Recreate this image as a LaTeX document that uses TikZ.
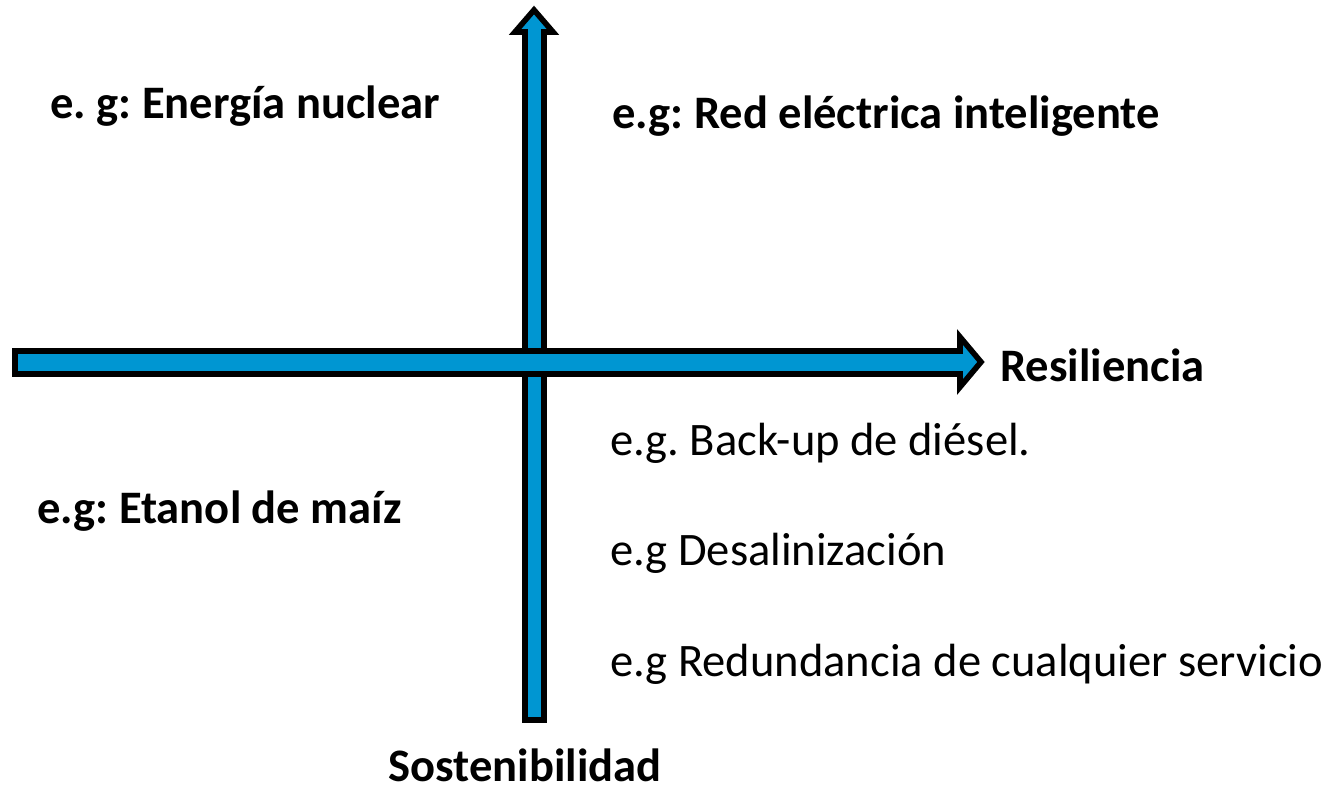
\documentclass[tikz,border=0pt]{standalone}
\usepackage{fontspec}
\setmainfont{Carlito}
\frenchspacing
\definecolor{axisblue}{RGB}{0,150,210}
\tikzset{
  blockarrow/.style={draw=black, fill=axisblue, line width=3.2pt, line join=miter},
  boldlbl/.style={anchor=west, inner sep=0pt, font=\fontsize{26.5}{30}\selectfont\bfseries},
  plainlbl/.style={anchor=west, inner sep=0pt, font=\fontsize{26.5}{30}\selectfont}
}
\begin{document}
\begin{tikzpicture}[x=0.02cm, y=-0.02cm]
		\useasboundingbox (0,0) rectangle (1334,793);
		% vertical axis
		\draw [blockarrow] (525,720) -- (525,32) -- (515,32) -- (534,10) -- (553,32) -- (544,32) -- (544,720) -- cycle;
		% horizontal axis
		\draw [blockarrow] (15,351) -- (960,351) -- (960,337) -- (981,362) -- (960,387) -- (960,374) -- (15,374) -- cycle;
		
		\node [boldlbl] (nuclear) at (50,106) {e. g: Energía nuclear};
		\node [boldlbl] (red) at (612,116) {e.g: Red eléctrica inteligente};
		\node [boldlbl] (resil) at (1000,365) {Resiliencia};
		\node [boldlbl] (etanol) at (37,511) {e.g: Etanol de maíz};
		\node [boldlbl, anchor=center] (sosten) at (525,765) {Sostenibilidad};
		
		\node [plainlbl] (backup) at (610,443) {e.g. Back-up de diésel.};
		\node [plainlbl] (desal) at (610,553) {e.g Desalinización};
		\node [plainlbl] (redund) at (610,664) {e.g Redundancia de cualquier servicio};
\end{tikzpicture}
\end{document}
